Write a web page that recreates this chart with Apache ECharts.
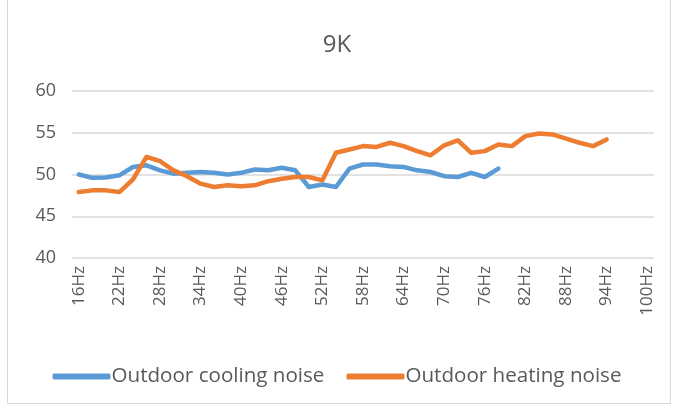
<!DOCTYPE html>
<html><head><meta charset="utf-8">
<script src="https://cdn.jsdelivr.net/npm/echarts@6/dist/echarts.min.js"></script>
<style>html,body{margin:0;padding:0;background:#fff}
#c{position:absolute;left:0;top:0;width:674px;height:407px;}
#f{position:absolute;left:7px;top:0;width:664px;height:404px;border:1px solid #d9d9d9;border-top:none;box-sizing:border-box;pointer-events:none}
</style></head>
<body><div id="c"></div><div id="f"></div>
<script>
const categories = [];
for (let hz = 16; hz <= 100; hz += 2) categories.push(hz + 'Hz');
const coolingNoise = [50.0,49.6,49.65,49.9,50.9,51.1,50.5,50.1,50.2,50.3,50.2,50.0,50.2,50.6,50.5,50.8,50.5,48.5,48.8,48.5,50.7,51.2,51.2,51.0,50.9,50.5,50.3,49.8,49.7,50.2,49.7,50.7];
const heatingNoise = [47.9,48.1,48.1,47.9,49.4,52.1,51.6,50.5,49.8,48.9,48.5,48.7,48.6,48.7,49.2,49.5,49.7,49.7,49.3,52.6,53.0,53.4,53.3,53.8,53.4,52.8,52.3,53.5,54.1,52.6,52.8,53.6,53.4,54.6,54.9,54.8,54.3,53.8,53.4,54.2];
const yTicks = [40,45,50,55,60];
const seriesNames = ['Outdoor cooling noise','Outdoor heating noise'];

const font = "'Open Sans', 'Liberation Sans', sans-serif";
const chart = echarts.init(document.getElementById('c'), null, {renderer:'canvas'});
chart.setOption({
  animation:false,
  title:{text:'9K', left:'center', top:28, textStyle:{fontFamily:font, fontSize:24, fontWeight:'normal', color:'#595959'}},
  legend:{bottom:15, left:'center', itemWidth:58, itemHeight:6, itemGap:22, icon:'roundRect',
    textStyle:{fontFamily:font, fontSize:20.6, color:'#595959', padding:[0,0,0,-4]},
    data:seriesNames},
  grid:{left:72, right:20, top:91, height:167, containLabel:false},
  xAxis:{type:'category', data:categories, boundaryGap:true,
    axisLine:{show:false}, axisTick:{show:false},
    axisLabel:{interval:2, rotate:90, margin:8, fontFamily:font, fontSize:17, color:'#595959'}},
  yAxis:{type:'value', min:yTicks[0], max:yTicks[yTicks.length-1], interval:5,
    axisLine:{show:false}, axisTick:{show:false},
    axisLabel:{fontFamily:font, fontSize:18, color:'#595959', margin:16},
    splitLine:{lineStyle:{color:'#d9d9d9', width:1.5}}},
  series:[
    {name:seriesNames[0], type:'line', data:coolingNoise, showSymbol:false, symbol:'none', color:'#5B9BD5',
      lineStyle:{width:4.5, color:'#5B9BD5', cap:'round', join:'round'}},
    {name:seriesNames[1], type:'line', data:heatingNoise, showSymbol:false, symbol:'none', color:'#ED7D31',
      lineStyle:{width:4.5, color:'#ED7D31', cap:'round', join:'round'}}
  ]
});
</script></body></html>
